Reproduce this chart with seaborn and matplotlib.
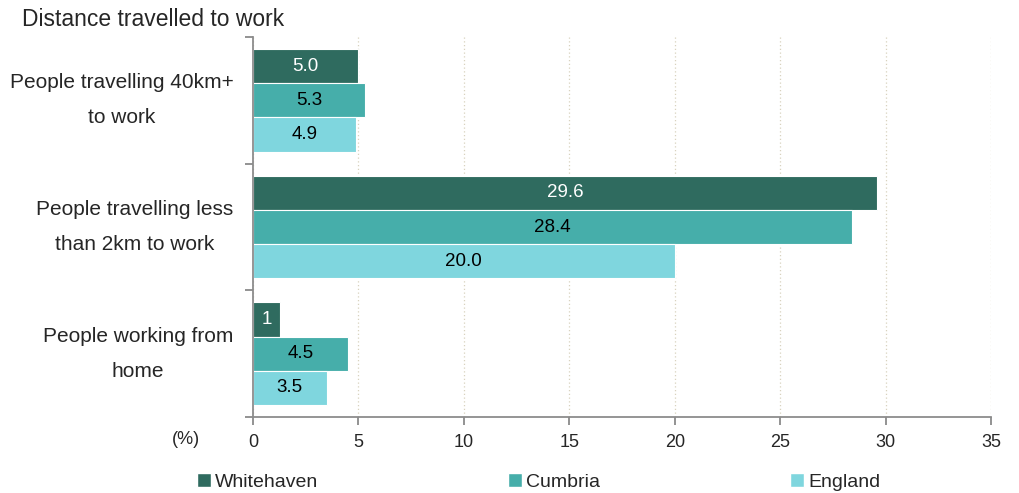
import matplotlib
matplotlib.use("Agg")
import matplotlib.pyplot as plt
import matplotlib.transforms as mtransforms
import seaborn as sns
import pandas as pd
import numpy as np
from matplotlib.patches import Patch

categories = ["People travelling 40km+\nto work",
              "People travelling less\nthan 2km to work",
              "People working from\nhome"]
series = ["Whitehaven", "Cumbria", "England"]
whitehaven = [5.0, 29.6, 1.3]
cumbria = [5.3, 28.4, 4.5]
england = [4.9, 20.0, 3.5]
whitehaven_labels = ["5.0", "29.6", "1"]
cumbria_labels = ["5.3", "28.4", "4.5"]
england_labels = ["4.9", "20.0", "3.5"]
xticks = [0, 5, 10, 15, 20, 25, 30, 35]

colors = ["#2f6b5f", "#46aeaa", "#7fd6de"]

sns.set_style("white")
plt.rcParams["font.family"] = ["Liberation Sans", "DejaVu Sans"]

rows = []
for s, vals in zip(series, [whitehaven, cumbria, england]):
    for c, v in zip(categories, vals):
        rows.append({"cat": c, "series": s, "value": v})
df = pd.DataFrame(rows)

W, H = 1020, 493
fig = plt.figure(figsize=(W/100, H/100), dpi=100)
ax_top, ax_bot = 37, 417
ax = fig.add_axes([253/W, 1-ax_bot/H, (991-253)/W, (ax_bot-ax_top)/H])

sns.barplot(data=df, y="cat", x="value", hue="series", orient="h",
            palette=colors, order=categories, hue_order=series, saturation=1,
            width=0.81, ax=ax, legend=False, edgecolor="white", linewidth=0.8)

label_sets = [whitehaven_labels, cumbria_labels, england_labels]
text_colors = ["white", "black", "black"]
for cont, labs, tc in zip(ax.containers, label_sets, text_colors):
    ax.bar_label(cont, labels=labs, label_type="center", color=tc, fontsize=13.5)

ax.set_xlim(0, 35)
ax.set_ylim(2.5, -0.5)
ax.set_xticks(xticks)
ax.set_xticklabels([str(t) for t in xticks], fontsize=13)
ax.grid(axis="x", color="#d8d2bf", linestyle=(0, (1, 2)), linewidth=0.9)
ax.set_axisbelow(True)

# category labels (centred multi-line text, left of the axis)
ax.set_yticks(range(3))
ax.set_yticklabels([])
ax.tick_params(axis="y", which="major", length=0, left=False)
trans = mtransforms.blended_transform_factory(fig.transFigure, ax.transData)
label_x_px = [122, 135, 138]
for i, (cat, xp) in enumerate(zip(categories, label_x_px)):
    ax.text(xp/W, i, cat, transform=trans, ha="center", va="center",
            fontsize=15, linespacing=2.08, multialignment="center")

ax.set_yticks([-0.5, 0.5, 1.5, 2.5], minor=True)
ax.tick_params(axis="y", which="minor", left=True, length=6, color="#808080",
               direction="out", width=1.2)
ax.tick_params(axis="x", bottom=True, length=6, color="#808080", direction="out",
               width=1.2, pad=6)
ax.set_xlabel("")
ax.set_ylabel("")

for side in ["top", "right"]:
    ax.spines[side].set_visible(False)
for side in ["left", "bottom"]:
    ax.spines[side].set_color("#8c8c8c")
    ax.spines[side].set_linewidth(1.3)

fig.text(22/W, 1-20/H, "Distance travelled to work", fontsize=16.5,
         va="center", ha="left")
fig.text(186/W, 1-440/H, "(%)", fontsize=13, va="center", ha="center")

positions = [197, 508, 790]
for s, c, xp in zip(series, colors, positions):
    fig.legend(handles=[Patch(facecolor=c)], labels=[s], loc="center left",
               bbox_to_anchor=(xp/W, 1-482/H), frameon=False,
               fontsize=14, handlelength=0.72, handleheight=0.72, handletextpad=0.2,
               borderpad=0, borderaxespad=0)

fig.savefig("out.png", dpi=100)
